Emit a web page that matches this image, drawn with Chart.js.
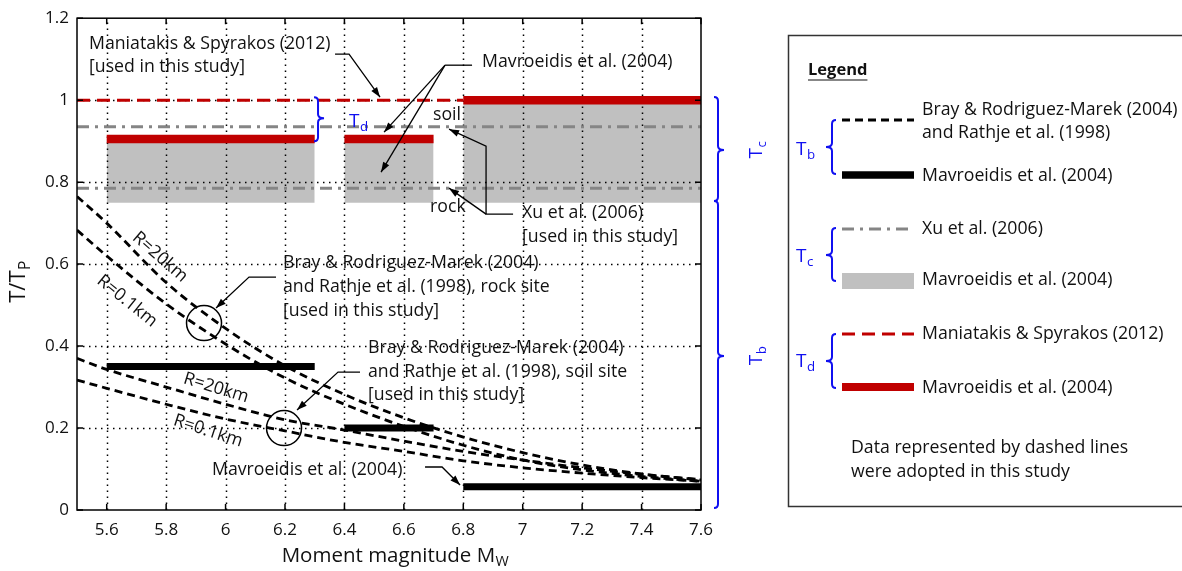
<!DOCTYPE html>
<html>
<head>
<meta charset="utf-8">
<script src="https://cdn.jsdelivr.net/npm/chart.js@4.4.1/dist/chart.umd.min.js"></script>
<style>
  html, body { margin: 0; padding: 0; background: #fff; }
</style>
</head>
<body>
<canvas id="myChart" width="1182" height="571"></canvas>
<script>

// -------- Data --------
const magnitudes = [5.5, 5.6, 5.8, 6.0, 6.2, 6.4, 6.6, 6.8, 7.0, 7.2, 7.4, 7.6];

// Bray & Rodriguez-Marek (2004) / Rathje et al. (1998), Tb / Tp
const rockR20 = [0.765, 0.70, 0.555, 0.443, 0.352, 0.282, 0.225, 0.178, 0.14, 0.11, 0.088, 0.073];
const rockR01 = [0.683, 0.62, 0.503, 0.405, 0.322, 0.258, 0.204, 0.158, 0.122, 0.098, 0.082, 0.07];
const soilR20 = [0.37, 0.343, 0.30, 0.258, 0.22, 0.195, 0.168, 0.143, 0.122, 0.103, 0.087, 0.074];
const soilR01 = [0.317, 0.297, 0.258, 0.222, 0.193, 0.165, 0.143, 0.12, 0.103, 0.09, 0.079, 0.07];

// Mavroeidis et al. (2004), magnitude bins
const binStart = [5.6, 6.4, 6.8];
const binEnd = [6.3, 6.7, 7.6];
const mavTb = [0.35, 0.2, 0.057];
const mavTd = [0.905, 0.905, 1.0];
const mavTcLow = [0.75, 0.75, 0.75];

// Xu et al. (2006), Tc / Tp
const xuSoil = 0.935;
const xuRock = 0.785;

// Maniatakis & Spyrakos (2012), Td / Tp
const maniatakisRange = [5.5, 6.8];
const maniatakisTd = 1.0;

const xRange = [5.5, 7.6];
const xTicks = [5.6, 5.8, 6.0, 6.2, 6.4, 6.6, 6.8, 7.0, 7.2, 7.4, 7.6];
const yTicks = [0, 0.2, 0.4, 0.6, 0.8, 1.0, 1.2];

// -------- Styles --------
const FONT = '"Open Sans", "DejaVu Sans", sans-serif';
const TXT = '#111';
const BLUE = '#1010f0';
const RED = '#c00000';
const GREY_BOX = '#c0c0c0';
const GREY_LINE = '#858585';
const FS = 17.7;

const pts = (xs, ys) => xs.map((x, i) => ({ x: x, y: ys[i] }));
const seg = (x0, x1, v) => [{ x: x0, y: v }, { x: x1, y: v }];

const datasets = [];

// gray boxes (Tc, Mavroeidis)
binStart.forEach((s, i) => {
  datasets.push({
    kind: 'box', data: seg(s, binEnd[i], mavTd[i]),
    borderWidth: 0, pointRadius: 0, backgroundColor: GREY_BOX,
    fill: { value: mavTcLow[i] }, order: 6
  });
});

// Xu et al. dash-dot lines
[xuSoil, xuRock].forEach(v => {
  datasets.push({
    data: seg(xRange[0], xRange[1], v), borderColor: GREY_LINE, borderWidth: 3,
    borderDash: [12, 6, 3, 6], pointRadius: 0, fill: false, order: 5
  });
});

// Maniatakis dashed red line
datasets.push({
  data: seg(maniatakisRange[0], maniatakisRange[1], maniatakisTd), borderColor: RED,
  borderWidth: 3, borderDash: [13, 7], pointRadius: 0, fill: false, order: 4
});

// red bars (Td, Mavroeidis)
binStart.forEach((s, i) => {
  datasets.push({
    data: seg(s, binEnd[i], mavTd[i]), borderColor: RED, borderWidth: 8.5,
    borderCapStyle: 'butt', pointRadius: 0, fill: false, order: 3
  });
});

// black bars (Tb, Mavroeidis)
binStart.forEach((s, i) => {
  datasets.push({
    data: seg(s, binEnd[i], mavTb[i]), borderColor: '#000', borderWidth: 7,
    borderCapStyle: 'butt', pointRadius: 0, fill: false, order: 2
  });
});

// Bray & Rodriguez-Marek curves
[rockR20, rockR01, soilR20, soilR01].forEach(arr => {
  datasets.push({
    data: pts(magnitudes, arr), borderColor: '#000', borderWidth: 2.8,
    borderDash: [8, 5], pointRadius: 0, fill: false,
    cubicInterpolationMode: 'monotone', order: 1
  });
});

// -------- Drawing helpers --------
function text(ctx, s, x, y, size, opt) {
  opt = opt || {};
  ctx.font = (opt.bold ? 'bold ' : '') + size + 'px ' + FONT;
  ctx.fillStyle = opt.color || TXT;
  ctx.textAlign = opt.align || 'left';
  ctx.textBaseline = 'middle';
  ctx.fillText(s, x, y);
  return ctx.measureText(s).width;
}

function subText(ctx, main, sub, x, y, size, color, align) {
  ctx.font = size + 'px ' + FONT;
  const w1 = ctx.measureText(main).width;
  ctx.font = (size * 0.7) + 'px ' + FONT;
  const w2 = ctx.measureText(sub).width;
  let x0 = x;
  if (align === 'center') x0 = x - (w1 + w2) / 2;
  text(ctx, main, x0, y, size, { color: color });
  text(ctx, sub, x0 + w1 + 0.5, y + size * 0.3, size * 0.7, { color: color });
}

function brace(ctx, x, y1, y2, dir, ym) {
  const r = 4, t = 6;
  if (ym === undefined) ym = (y1 + y2) / 2;
  ctx.beginPath();
  ctx.moveTo(x - dir * r, y1);
  ctx.quadraticCurveTo(x, y1, x, y1 + r);
  ctx.lineTo(x, ym - r);
  ctx.quadraticCurveTo(x, ym, x + dir * t, ym);
  ctx.quadraticCurveTo(x, ym, x, ym + r);
  ctx.lineTo(x, y2 - r);
  ctx.quadraticCurveTo(x, y2, x - dir * r, y2);
  ctx.stroke();
}

function leader(ctx, p, arrow) {
  ctx.beginPath();
  ctx.moveTo(p[0][0], p[0][1]);
  for (let i = 1; i < p.length; i++) ctx.lineTo(p[i][0], p[i][1]);
  ctx.stroke();
  if (arrow) {
    const [x1, y1] = p[p.length - 2], [x2, y2] = p[p.length - 1];
    const a = Math.atan2(y2 - y1, x2 - x1), L = 10, W = 3.5;
    ctx.beginPath();
    ctx.moveTo(x2, y2);
    ctx.lineTo(x2 - L * Math.cos(a) + W * Math.sin(a), y2 - L * Math.sin(a) - W * Math.cos(a));
    ctx.lineTo(x2 - L * Math.cos(a) - W * Math.sin(a), y2 - L * Math.sin(a) + W * Math.cos(a));
    ctx.closePath();
    ctx.fill();
  }
}

function drawGrid(chart) {
  const { ctx, chartArea: a, scales: { x, y } } = chart;
  ctx.save();
  ctx.strokeStyle = '#000';
  ctx.lineWidth = 1.5;
  ctx.setLineDash([1.5, 4.5]);
  xTicks.forEach(v => {
    if (v <= xRange[0] || v >= xRange[1]) return;
    const px = Math.round(x.getPixelForValue(v)) + 0.5;
    ctx.beginPath(); ctx.moveTo(px, a.bottom); ctx.lineTo(px, a.top); ctx.stroke();
  });
  yTicks.forEach(v => {
    if (v <= 0 || v >= 1.2) return;
    const py = Math.round(y.getPixelForValue(v)) + 0.5;
    ctx.beginPath(); ctx.moveTo(a.left, py); ctx.lineTo(a.right, py); ctx.stroke();
  });
  ctx.restore();
}

// -------- Decorations plugin --------
const decor = {
  id: 'decor',
  beforeDatasetsDraw(chart) { chart.$gridDone = false; },
  beforeDatasetDraw(chart, args) {
    if (!chart.$gridDone && chart.data.datasets[args.index].kind !== 'box') {
      drawGrid(chart);
      chart.$gridDone = true;
    }
  },
  afterDraw(chart) {
    const { ctx, chartArea: a, scales: { x, y } } = chart;
    // reference-pixel positions mapped through the scales
    const R = (px, py) => [x.getPixelForValue(5.5 + (px - 77) / 297.1), y.getPixelForValue((510 - py) / 410)];

    ctx.save();
    // frame + inward ticks
    ctx.strokeStyle = '#000';
    ctx.lineWidth = 1.5;
    ctx.strokeRect(a.left, a.top, a.right - a.left, a.bottom - a.top);
    ctx.beginPath();
    xTicks.forEach(v => {
      const px = x.getPixelForValue(v);
      ctx.moveTo(px, a.bottom); ctx.lineTo(px, a.bottom - 6);
      ctx.moveTo(px, a.top); ctx.lineTo(px, a.top + 6);
    });
    yTicks.forEach(v => {
      const py = y.getPixelForValue(v);
      ctx.moveTo(a.left, py); ctx.lineTo(a.left + 6, py);
      ctx.moveTo(a.right, py); ctx.lineTo(a.right - 6, py);
    });
    ctx.stroke();

    // axis titles
    subText(ctx, 'Moment magnitude M', 'W', 395, 556, 20.5, TXT, 'center');
    ctx.save();
    ctx.translate(19, 282);
    ctx.rotate(-Math.PI / 2);
    subText(ctx, 'T/T', 'P', 0, 0, 22, TXT, 'center');
    ctx.restore();

    // annotations in the plot
    let p;
    p = R(89, 44); text(ctx, 'Maniatakis & Spyrakos (2012)', p[0], p[1], FS);
    p = R(89, 67); text(ctx, '[used in this study]', p[0], p[1], FS);
    p = R(482, 62); text(ctx, 'Mavroeidis et al. (2004)', p[0], p[1], FS);
    p = R(433, 115); text(ctx, 'soil', p[0], p[1], FS);
    p = R(430, 207); text(ctx, 'rock', p[0], p[1], FS);
    p = R(522, 213); text(ctx, 'Xu et al. (2006)', p[0], p[1], FS);
    p = R(522, 237); text(ctx, '[used in this study]', p[0], p[1], FS);
    p = R(283, 263); text(ctx, 'Bray & Rodriguez-Marek (2004)', p[0], p[1], FS);
    p = R(283, 287); text(ctx, 'and Rathje et al. (1998), rock site', p[0], p[1], FS);
    p = R(283, 311); text(ctx, '[used in this study]', p[0], p[1], FS);
    p = R(368, 348); text(ctx, 'Bray & Rodriguez-Marek (2004)', p[0], p[1], FS);
    p = R(368, 372); text(ctx, 'and Rathje et al. (1998), soil site', p[0], p[1], FS);
    p = R(368, 395); text(ctx, '[used in this study]', p[0], p[1], FS);
    p = R(212, 470); text(ctx, 'Mavroeidis et al. (2004)', p[0], p[1], FS);

    // rotated curve labels
    const rot = (s, px, py, deg) => {
      const q = R(px, py);
      ctx.save(); ctx.translate(q[0], q[1]); ctx.rotate(deg * Math.PI / 180);
      text(ctx, s, 0, 0, FS, { align: 'center' });
      ctx.restore();
    };
    rot('R=20km', 160, 257, 41);
    rot('R=0.1km', 127, 301, 39);
    rot('R=20km', 216, 388, 17);
    rot('R=0.1km', 208, 431, 18);

    // leader lines and arrows
    ctx.strokeStyle = '#000';
    ctx.fillStyle = '#000';
    ctx.lineWidth = 1.3;
    const L = (arr, arrow) => leader(ctx, arr.map(q => R(q[0], q[1])), arrow);
    L([[335, 54], [349, 54], [380, 97]], true);
    L([[472, 65], [445, 65]], false);
    L([[445, 65], [384, 132]], true);
    L([[445, 65], [381, 172]], true);
    L([[513, 214], [486, 214], [486, 146], [449, 129]], true);
    L([[486, 214], [449, 188]], true);
    L([[276, 277], [249, 277], [216, 308]], true);
    L([[360, 372], [338, 372], [297, 410]], true);
    L([[425, 467], [442, 467], [460, 485]], true);

    // circles
    ctx.lineWidth = 1.5;
    [[204, 323], [284, 428]].forEach(c => {
      const q = R(c[0], c[1]);
      ctx.beginPath(); ctx.arc(q[0], q[1], 17.5, 0, Math.PI * 2); ctx.stroke();
    });

    // blue braces
    ctx.strokeStyle = BLUE;
    ctx.lineWidth = 2;
    const B = (px, y1, y2, dir, ym) => {
      const a1 = R(px, y1), a2 = R(px, y2), am = R(px, ym);
      brace(ctx, a1[0], a1[1], a2[1], dir, am[1]);
    };
    B(318, 97, 141, 1, 118);
    p = R(349, 121); subText(ctx, 'T', 'd', p[0], p[1], 19, BLUE);
    brace(ctx, 718, 97, 201, 1, 150);
    brace(ctx, 718, 201, 508, 1, 356);
    [['T', 'c', 150], ['T', 'b', 356]].forEach(l => {
      ctx.save(); ctx.translate(757, l[2]); ctx.rotate(-Math.PI / 2);
      subText(ctx, l[0], l[1], 0, 0, 19, BLUE, 'center');
      ctx.restore();
    });

    // -------- legend panel --------
    ctx.strokeStyle = '#333';
    ctx.lineWidth = 1.5;
    ctx.strokeRect(788.5, 35.5, 420, 471);
    const w = text(ctx, 'Legend', 808, 70, 16.5, { bold: true });
    ctx.strokeStyle = TXT; ctx.lineWidth = 1.2;
    ctx.beginPath(); ctx.moveTo(808, 80); ctx.lineTo(808 + w, 80); ctx.stroke();

    const sx0 = 842, sx1 = 914, tx = 922;
    const line = (yy, color, width, dash) => {
      ctx.save(); ctx.strokeStyle = color; ctx.lineWidth = width; ctx.setLineDash(dash);
      ctx.beginPath(); ctx.moveTo(sx0, yy); ctx.lineTo(sx1, yy); ctx.stroke(); ctx.restore();
    };
    line(120, '#000', 2.8, [8, 5]);
    text(ctx, 'Bray & Rodriguez-Marek (2004)', tx, 110, FS);
    text(ctx, 'and Rathje et al. (1998)', tx, 133, FS);
    line(175, '#000', 7.5, []);
    text(ctx, 'Mavroeidis et al. (2004)', tx, 176, FS);
    line(229, GREY_LINE, 3, [12, 6, 3, 6]);
    text(ctx, 'Xu et al. (2006)', tx, 229, FS);
    ctx.fillStyle = GREY_BOX; ctx.fillRect(sx0, 273, sx1 - sx0, 16);
    text(ctx, 'Mavroeidis et al. (2004)', tx, 280, FS);
    line(334, RED, 3, [13, 7]);
    text(ctx, 'Maniatakis & Spyrakos (2012)', tx, 334, FS);
    line(387, RED, 8, []);
    text(ctx, 'Mavroeidis et al. (2004)', tx, 388, FS);
    text(ctx, 'Data represented by dashed lines', 851, 448, FS);
    text(ctx, 'were adopted in this study', 851, 472, FS);

    ctx.strokeStyle = BLUE; ctx.lineWidth = 2;
    brace(ctx, 832, 120, 174, -1, 147);
    brace(ctx, 832, 228, 281, -1, 255);
    brace(ctx, 832, 334, 388, -1, 361);
    subText(ctx, 'T', 'b', 796, 150, 19, BLUE);
    subText(ctx, 'T', 'c', 796, 257, 19, BLUE);
    subText(ctx, 'T', 'd', 796, 362, 19, BLUE);
    ctx.restore();
  }
};

// -------- Chart --------
const ctx = document.getElementById('myChart').getContext('2d');

new Chart(ctx, {
  type: 'line',
  data: { datasets: datasets },
  options: {
    responsive: false,
    animation: false,
    devicePixelRatio: 1,
    layout: { padding: { left: 0, top: 18, right: 481, bottom: 0 } },
    plugins: { legend: { display: false }, tooltip: { enabled: false } },
    scales: {
      x: {
        type: 'linear', min: xRange[0], max: xRange[1],
        grid: { display: false, drawTicks: false },
        border: { display: false },
        afterBuildTicks: s => { s.ticks = xTicks.map(v => ({ value: v })); },
        afterFit: s => { s.height = 61; },
        ticks: {
          autoSkip: false, maxRotation: 0, padding: 10, color: TXT,
          font: { family: FONT, size: 17 },
          callback: v => String(Math.round(v * 10) / 10)
        }
      },
      y: {
        type: 'linear', min: 0, max: 1.2,
        grid: { display: false, drawTicks: false },
        border: { display: false },
        afterBuildTicks: s => { s.ticks = yTicks.map(v => ({ value: v })); },
        afterFit: s => { s.width = 77; },
        ticks: {
          autoSkip: false, padding: 8, color: TXT,
          font: { family: FONT, size: 17 },
          callback: v => String(Math.round(v * 10) / 10)
        }
      }
    }
  },
  plugins: [decor]
});
</script>
</body>
</html>
